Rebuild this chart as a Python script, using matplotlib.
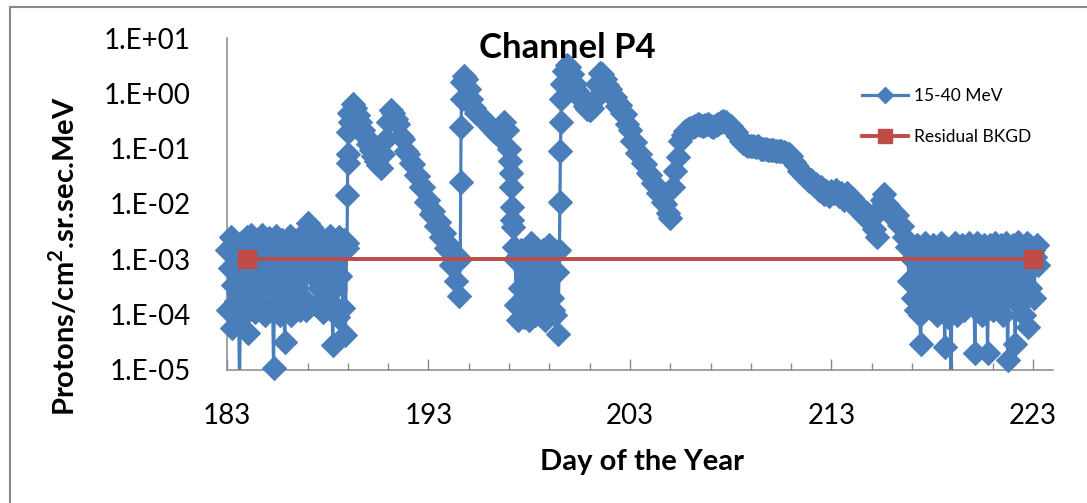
import numpy as np
import matplotlib
matplotlib.use('Agg')
import matplotlib.pyplot as plt
from matplotlib.patches import Rectangle

plt.rcParams['font.family'] = ['Lato', 'DejaVu Sans']
plt.rcParams['mathtext.fontset'] = 'custom'
plt.rcParams['mathtext.rm'] = 'Lato'
plt.rcParams['mathtext.bf'] = 'Lato:bold'

# 15-40 MeV proton flux
# each segment: start day, sampling step (days), values
quiet_a = [
    1.5e-3, 1.2e-4, 7e-4, 2.5e-3, 5.7e-5, 3.5e-4, 1.8e-3, 1.8e-4, 1e-3, 2.5e-4, 5e-6, 2e-3, 9e-5, 5e-4, 2.2e-3, 1.5e-4,
    2.5e-3, 4.6e-5, 8e-4, 2.8e-3, 2e-4, 1.3e-3, 1.1e-4, 6e-4, 2.2e-3, 3e-4, 1.7e-3, 1.3e-4, 2.8e-3, 4e-4, 1e-4, 1.5e-3,
    7e-4, 2.4e-3, 1.5e-4, 1.2e-3, 3e-4, 1.1e-5, 9e-4, 2.6e-3, 2e-4, 1.8e-3, 1e-4, 5e-4, 2.2e-3, 1.4e-4, 3.2e-5, 1.9e-3,
    2e-3, 2.5e-4, 2.6e-3, 1e-4, 8e-4, 2.2e-3, 1.6e-4, 1.4e-3, 4e-4, 2.4e-3, 1.2e-4, 1e-3, 2e-4, 2e-3, 6e-4, 1.2e-4,
    4.5e-3, 3.2e-3, 1.5e-3, 3.8e-3, 5e-4, 2.6e-3, 1.2e-3, 1.5e-4, 2e-3, 3e-4, 9e-4, 2.4e-3, 1.1e-4, 1.8e-3, 4e-4, 2.2e-3,
    1.2e-3, 1.6e-4, 2.6e-3, 7e-4, 2.8e-5, 2e-3, 3e-4, 1.4e-3, 9e-5, 2.5e-3, 5e-4, 1.8e-3, 1.3e-4, 2.2e-3, 4.3e-5, 1.6e-3,
]
rise_a = [2e-3, 1.45e-2, 5.5e-2, 8e-2, 0.2, 0.45]
event_a = [
    0.3, 0.65, 0.55, 0.4, 0.3, 0.22, 0.16,
    0.12, 0.095, 0.075, 0.06, 0.05, 0.045, 0.08, 0.15,
    0.3, 0.5, 0.45, 0.35, 0.28, 0.17, 0.15, 0.09,
    0.08, 0.055, 0.052, 0.034, 0.032, 0.02, 0.02, 0.011,
    0.012, 0.0065, 0.0075, 0.004, 0.0048, 0.0025, 0.003, 0.0016,
    1.8e-3, 8e-4, 1.3e-3, 4e-4, 2.2e-4,
]
rise_b = [1e-3, 0.025, 0.25, 0.8, 1.6]
event_b = [
    2.1, 1.8, 1.2, 0.8, 0.55, 0.45, 0.4,
    0.38, 0.33, 0.3, 0.27, 0.24, 0.21, 0.19, 0.17, 0.2, 0.3, 0.22, 0.1,
]
decay_b = [0.06, 0.036, 0.02, 0.0087, 0.0051, 0.0038, 0.0017]
quiet_b = [
    1e-3, 1.5e-4, 8e-5, 1.2e-3, 3e-4, 1.5e-3, 1.2e-4, 9e-5, 1.1e-3, 2.5e-4, 7e-4, 8e-5,
    1.4e-3, 2e-3, 1.8e-4, 1.2e-3, 1e-4, 1.6e-3, 4e-4, 1.2e-3, 1e-4, 3e-4, 1.5e-3, 1.5e-4,
    8e-5, 1e-3, 5e-4, 1.8e-3, 1.2e-3, 2e-4, 1.2e-4, 1.5e-3, 1e-4, 6e-4, 4.5e-5,
]
rise_c = [1.5e-3, 0.011, 0.09, 0.3, 0.8, 1.5]
event_c = [
    2.5, 3.2,
    3.0, 2.2, 1.5, 1.1, 0.9, 0.75, 0.6, 0.52,
    0.5, 0.55, 0.8, 1.5, 2.3, 2.2, 1.8, 1.4,
    1.2, 0.9, 0.85, 0.6, 0.62, 0.45, 0.42, 0.28,
    0.22, 0.14, 0.13, 0.085, 0.08, 0.055, 0.052, 0.036,
    0.034, 0.024, 0.022, 0.016, 0.016, 0.011, 0.01, 0.007,
    0.0057, 0.02, 0.04, 0.07, 0.14, 0.18, 0.21, 0.23,
    0.24, 0.25, 0.26, 0.28, 0.27, 0.26, 0.27, 0.28,
    0.26, 0.25, 0.27, 0.28, 0.3, 0.32, 0.3, 0.27,
    0.26, 0.23, 0.2, 0.17, 0.14, 0.125, 0.115, 0.11,
    0.11, 0.11, 0.105, 0.11, 0.1, 0.1, 0.098, 0.095,
    0.095, 0.093, 0.09, 0.092, 0.09, 0.088, 0.085, 0.08,
    0.075, 0.058, 0.05, 0.04, 0.04, 0.032, 0.031, 0.026,
    0.027, 0.022, 0.023, 0.018, 0.02, 0.015, 0.017, 0.014,
    0.017, 0.016, 0.018, 0.014, 0.016, 0.012, 0.016, 0.012,
    0.013, 0.0095, 0.01, 0.0075, 0.008, 0.006, 0.007, 0.005,
    0.0055, 0.0035, 0.0025, 0.008, 0.012, 0.015, 0.01, 0.009,
    0.0075, 0.0055, 0.0062, 0.0042, 0.004, 0.0025, 0.0017, 0.0004,
]
quiet_c = [
    1e-3, 2e-4, 1.5e-3, 1.2e-4, 1.8e-3, 5e-4, 1e-4, 3e-5, 1.2e-3, 2.5e-4, 2e-3, 1.5e-4, 8e-4, 1.6e-3, 1.8e-4, 1.1e-3,
    1.5e-4, 1.8e-3, 4e-4, 1.3e-3, 1e-4, 1.5e-3, 6e-4, 2e-3, 2e-4, 1.1e-3, 2.6e-5, 1.6e-3, 3e-4, 9e-5, 1.4e-3, 5e-6,
    1.2e-3, 1.5e-4, 2e-3, 5e-4, 1e-4, 1.6e-3, 2.5e-4, 1.2e-3, 1.8e-3, 1.2e-4, 7e-4, 1.5e-4, 1.4e-3, 2e-3, 3e-4, 1.1e-3,
    1.6e-3, 3.5e-4, 2e-5, 1.2e-3, 2e-3, 1.5e-4, 1.5e-3, 6e-4, 1e-4, 1.8e-3, 2.5e-4, 1.3e-3, 2e-5, 8e-4, 1.8e-3, 2e-4,
    1.2e-4, 1.2e-3, 2e-3, 4e-4, 1.4e-3, 1.8e-4, 1e-3, 1.8e-3, 1e-4, 1.5e-3, 5e-4, 2e-3, 1.5e-5, 1.6e-3, 2.5e-4, 1.1e-3,
    1.8e-3, 3e-4, 3e-5, 1.5e-3, 2.1e-3, 1.5e-4, 1.2e-3, 6e-4, 1.6e-3, 1e-4, 1.4e-3, 2e-3, 6e-5, 1.8e-3, 3e-4, 1.3e-3,
    1.5e-3, 2e-4, 1.1e-3, 1.8e-3, 8e-4,
]

segments = [
    (183.0, 0.0625, quiet_a),
    (188.96, 0.015, rise_a),
    (189.125, 0.125, event_a),
    (194.58, 0.02, rise_b),
    (194.75, 0.125, event_b),
    (197.05, 0.03, decay_b),
    (197.3, 0.0625, quiet_b),
    (199.5, 0.025, rise_c),
    (199.75, 0.125, event_c),
    (217.0, 0.0625, quiet_c),
]

bkgd_days = [184, 223]
bkgd_flux = [1e-3, 1e-3]

ytick_vals = [1e1, 1e0, 1e-1, 1e-2, 1e-3, 1e-4, 1e-5]
ytick_labels = ['1.E+01', '1.E+00', '1.E-01', '1.E-02', '1.E-03', '1.E-04', '1.E-05']
xtick_major = [183, 193, 203, 213, 223]

days = np.concatenate([s + st * np.arange(len(v)) for s, st, v in segments])
flux = np.concatenate([np.array(v, dtype=float) for s, st, v in segments])

blue = '#4A7EBB'
red = '#BE4B48'
grey = '#898989'

W, H = 1087, 503
fig = plt.figure(figsize=(W / 100, H / 100), dpi=100)
ax = fig.add_axes([227 / W, 1 - 370 / H, (1053 - 227) / W, (370 - 38) / H])

# line clipped at the axis, markers allowed to spill over like Excel
ax.plot(days, flux, color=blue, lw=2.3, zorder=2)
mk = np.where(flux >= 1e-5, flux, np.nan)
ax.plot(days, mk, ls='none', marker='D', ms=12, color=blue, mec=blue, mew=0.8,
        clip_on=False, zorder=3)
ax.plot(bkgd_days, bkgd_flux, color=red, lw=2.8, marker='s', ms=13,
        mec=red, clip_on=False, zorder=4)

ax.set_yscale('log')
ax.set_ylim(1e-5, 1e1)
ax.set_xlim(183, 224)
ax.set_yticks(ytick_vals)
ax.set_yticklabels(ytick_labels)
ax.yaxis.set_minor_locator(matplotlib.ticker.NullLocator())
ax.tick_params(axis='y', length=0, pad=26, labelsize=20)

ax.set_xticks(xtick_major)
ax.set_xticks(np.arange(185, 224, 2), minor=True)
ax.tick_params(axis='x', which='major', direction='in', length=8, width=1,
               color=grey, pad=24, labelsize=20)
ax.tick_params(axis='x', which='minor', direction='in', length=5, width=1,
               color=grey)

for side in ['top', 'right']:
    ax.spines[side].set_visible(False)
for side in ['left', 'bottom']:
    ax.spines[side].set_color(grey)
    ax.spines[side].set_linewidth(1.1)

fig.text(567 / W, 1 - 48 / H, 'Channel P4', ha='center', va='center',
         fontsize=25, fontweight='bold')
fig.text(642 / W, 1 - 462 / H, 'Day of the Year', ha='center', va='center',
         fontsize=21, fontweight='bold')
fig.text(63 / W, 1 - 256 / H, r'Protons/cm$^\mathbf{2}$.sr.sec.MeV', ha='center',
         va='center', rotation=90, fontsize=21, fontweight='bold')

h1, = ax.plot([], [], color=blue, lw=2.3, marker='D', ms=8, mec=blue)
h2, = ax.plot([], [], color=red, lw=2.8, marker='s', ms=10, mec=red)
fig.legend([h1, h2], ['15-40 MeV', 'Residual BKGD'], loc='upper left',
           bbox_to_anchor=(862 / W, 1 - 88 / H), frameon=False, fontsize=12.5,
           handlelength=2.65, handletextpad=0.35, labelspacing=1.45,
           borderpad=0, borderaxespad=0, numpoints=1)

fig.add_artist(Rectangle((10 / W, -0.1), 1.2, 1.1 - 7 / H, transform=fig.transFigure,
                         fill=False, edgecolor=grey, lw=1.5))

fig.savefig('out.png', dpi=100)
